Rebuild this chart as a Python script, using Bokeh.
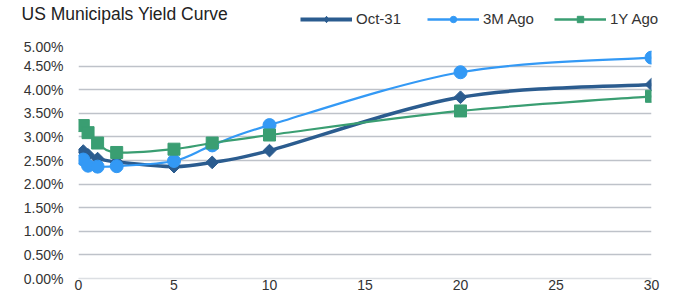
import math
from bokeh.plotting import figure
from bokeh.layouts import column
from bokeh.models import (FixedTicker, PrintfTickFormatter, Legend, LegendItem,
                          Label, Range1d, ColumnDataSource)
from bokeh.embed import file_html
from bokeh.resources import INLINE

# ---- data (yields in %) ----
maturities = [0.25, 0.5, 1, 2, 5, 7, 10, 20, 30]
oct31 = [2.70, 2.62, 2.54, 2.47, 2.37, 2.46, 2.71, 3.84, 4.11]
m3_ago = [2.52, 2.39, 2.37, 2.38, 2.49, 2.82, 3.25, 4.37, 4.68]
y1_ago = [3.24, 3.09, 2.87, 2.67, 2.74, 2.87, 3.04, 3.55, 3.86]
series_names = ["Oct-31", "3M Ago", "1Y Ago"]
x_ticks = [0, 5, 10, 15, 20, 25, 30]
y_ticks = [0, 0.5, 1, 1.5, 2, 2.5, 3, 3.5, 4, 4.5, 5]
chart_title = "US Municipals Yield Curve"

FONT = "Liberation Sans"
W = 681
HEAD_H = 38
MAIN_H = 264


def smooth_source(xs, ys):
    """Bezier control points for a smoothed line through the data points."""
    n = len(xs)
    d = dict(x0=[], y0=[], x1=[], y1=[], cx0=[], cy0=[], cx1=[], cy1=[])
    for i in range(n - 1):
        a = max(i - 1, 0)
        b = min(i + 2, n - 1)
        d["x0"].append(xs[i]); d["y0"].append(ys[i])
        d["x1"].append(xs[i + 1]); d["y1"].append(ys[i + 1])
        d["cx0"].append(xs[i] + (xs[i + 1] - xs[a]) / 6)
        d["cy0"].append(ys[i] + (ys[i + 1] - ys[a]) / 6)
        d["cx1"].append(xs[i + 1] - (xs[b] - xs[i]) / 6)
        d["cy1"].append(ys[i + 1] - (ys[b] - ys[i]) / 6)
    return ColumnDataSource(d)


# ---------------- main chart ----------------
p = figure(width=W, height=MAIN_H, output_backend="svg", toolbar_location=None,
           title=None, x_range=Range1d(0, 30), y_range=Range1d(0, 5),
           min_border_left=78, min_border_right=30, min_border_top=4,
           min_border_bottom=24)
p.frame_align = False
p.outline_line_color = None
p.background_fill_color = "white"
p.border_fill_color = "white"

p.xgrid.grid_line_color = None
p.ygrid.grid_line_color = "#BEC2C9"
p.ygrid.grid_line_width = 1.6
p.ygrid.ticker = FixedTicker(ticks=y_ticks)

for ax in (p.xaxis, p.yaxis):
    ax.major_tick_line_color = None
    ax.minor_tick_line_color = None
    ax.major_tick_out = 0
    ax.major_tick_in = 0
    ax.minor_tick_out = 0
    ax.minor_tick_in = 0
    ax.major_label_text_font = FONT
    ax.major_label_text_font_size = "14px"
    ax.major_label_text_color = "#333333"

p.yaxis.axis_line_color = None
p.xaxis.axis_line_color = "#DCDFE3"
p.xaxis.axis_line_width = 1.6
p.xaxis.ticker = FixedTicker(ticks=x_ticks)
p.yaxis.ticker = FixedTicker(ticks=y_ticks)
p.yaxis.formatter = PrintfTickFormatter(format="%.2f%%")
p.xaxis.major_label_standoff = 1
p.yaxis.major_label_standoff = 15

colors = ["#2B5C8F", "#3399F5", "#3A9E72"]
widths = [3.5, 2.2, 2.2]
markers = ["square", "circle", "square"]
angles = [math.pi / 4, 0, 0]
msizes = [9, 13, 12]
legend_markers = ["diamond", "circle", "square"]
data = [oct31, m3_ago, y1_ago]

# ---------------- header: title + legend ----------------
hdr = figure(width=W, height=HEAD_H, output_backend="svg", toolbar_location=None,
             title=None, x_axis_type=None, y_axis_type=None,
             x_range=Range1d(0, 30), y_range=Range1d(100, 101), min_border=0)
hdr.frame_align = False
hdr.outline_line_color = None
hdr.background_fill_color = "white"
hdr.border_fill_color = "white"

items = []
for name, ys, c, w, m, ang, s, lm in zip(series_names, data, colors, widths,
                                         markers, angles, msizes, legend_markers):
    src = smooth_source(maturities, ys)
    p.bezier(x0="x0", y0="y0", x1="x1", y1="y1", cx0="cx0", cy0="cy0",
             cx1="cx1", cy1="cy1", source=src, line_color=c, line_width=w)
    p.scatter(maturities, ys, marker=m, angle=ang, size=s,
              fill_color=c, line_color=c)
    # legend-key renderers (series drawn outside the header's visible range)
    hl = hdr.line(maturities, ys, line_color=c, line_width=w + 0.3)
    hs = hdr.scatter(maturities, ys, marker=lm, size=s, fill_color=c, line_color=c)
    items.append(LegendItem(label=name, renderers=[hl, hs]))

leg = Legend(items=items, location=(300, 11), orientation="horizontal",
             glyph_width=52, glyph_height=16, label_standoff=4, label_width=55,
             spacing=16, padding=0, margin=0, border_line_color=None,
             background_fill_alpha=0, label_text_font=FONT,
             label_text_font_size="15px", label_text_color="#333333")
hdr.add_layout(leg)

title = Label(x=21, y=HEAD_H - 13, x_units="screen", y_units="screen",
              text=chart_title, text_font=FONT, text_font_size="17.5px",
              text_color="#222222", text_baseline="middle")
hdr.add_layout(title)

layout = column(hdr, p, spacing=0)
open("out.html", "w").write(file_html(layout, INLINE))
